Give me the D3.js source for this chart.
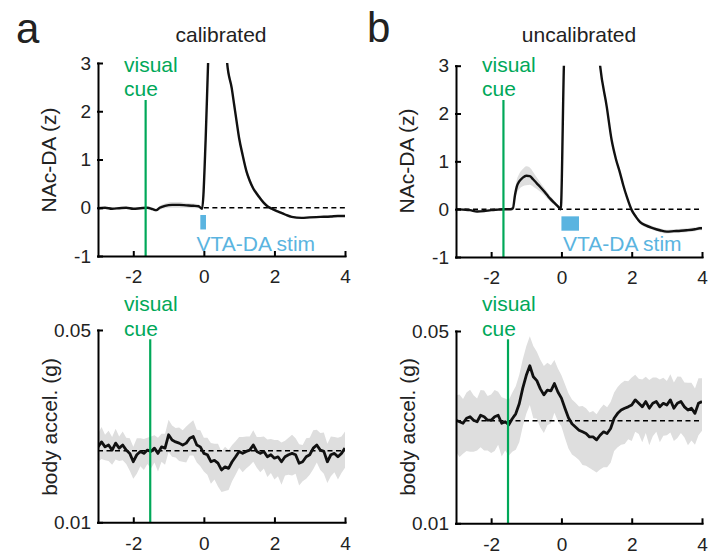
<!DOCTYPE html>
<html>
<head>
<meta charset="utf-8">
<script src="https://cdn.jsdelivr.net/npm/d3@7"></script>
<style>
  body { margin: 0; background: #fff; }
  svg { font-family: "Liberation Sans", Arial, Helvetica, sans-serif; }
  .axis path, .axis line { stroke: #000; stroke-width: 2; stroke-linecap: square; }
  .axis text { fill: #222; font-size: 19px; }
</style>
</head>
<body>
<svg id="fig" width="708" height="557"></svg>
<script>
// ---- data ----
const xTicks = [-2, 0, 2, 4];
const daTicks = [-1, 0, 1, 2, 3];
const accTicks = [0.01, 0.05];

// NAc-DA, calibrated (panel a)
const tDaA = [-3,-2.8,-2.6,-2.4,-2.2,-2,-1.8,-1.6,-1.45,-1.35,-1.25,-1.1,-0.9,-0.7,-0.5,-0.3,-0.15,-0.05,
  0.05,0.12,0.2,0.4,0.6,0.66,0.79,0.86,0.93,1.0,1.1,1.21,1.3,1.4,1.5,1.59,1.7,1.82,1.95,
  2.11,2.3,2.49,2.77,3.0,3.3,3.6,3.8,4.0];
const daA = [-0.01,0,-0.02,-0.01,0,-0.02,-0.01,0,-0.03,-0.05,0,0.04,0.06,0.06,0.05,0.04,0.03,-0.02,
  1.4,3.0,4.5,5.5,3.6,3.0,2.48,2.13,1.78,1.44,1.09,0.75,0.56,0.40,0.29,0.20,0.10,0.02,-0.03,
  -0.08,-0.14,-0.19,-0.21,-0.2,-0.19,-0.18,-0.17,-0.17];
const semDaA = [0.015,0.015,0.015,0.015,0.015,0.015,0.015,0.015,0.02,0.03,0.04,0.05,0.06,0.06,0.05,0.05,0.04,0.02,
  0.05,0.06,0.08,0.1,0.1,0.09,0.09,0.09,0.09,0.08,0.08,0.07,0.06,0.05,0.05,0.04,0.04,0.03,0.03,
  0.02,0.02,0.02,0.02,0.02,0.02,0.02,0.02,0.02];

// NAc-DA, uncalibrated (panel b)
const tDaB = [-3,-2.8,-2.6,-2.4,-2.2,-2,-1.8,-1.6,-1.45,-1.38,-1.32,-1.27,-1.2,-1.1,-1.0,-0.9,-0.8,-0.7,
  -0.61,-0.5,-0.4,-0.32,-0.2,-0.1,-0.02,0.07,0.15,0.5,1.0,1.1,1.29,1.43,1.55,1.67,1.76,1.86,
  2.0,2.12,2.24,2.4,2.62,2.8,3.0,3.2,3.4,3.56,3.8,3.94,4.0];
const daB = [0,-0.01,-0.02,-0.05,-0.04,-0.02,-0.01,0,0,0.02,0.3,0.47,0.58,0.66,0.70,0.69,0.62,0.54,
  0.47,0.38,0.29,0.22,0.13,0.06,0,3.0,5,7,3.8,3.0,2.14,1.44,1.05,0.75,0.50,0.26,
  -0.02,-0.16,-0.27,-0.34,-0.40,-0.44,-0.47,-0.46,-0.45,-0.44,-0.42,-0.40,-0.40];
const semDaB = [0.02,0.02,0.02,0.02,0.02,0.02,0.02,0.02,0.02,0.04,0.1,0.14,0.16,0.18,0.2,0.18,0.15,0.12,
  0.1,0.08,0.07,0.06,0.05,0.04,0.03,0.05,0.1,0.1,0.1,0.08,0.07,0.06,0.05,0.05,0.04,0.04,
  0.04,0.04,0.04,0.04,0.04,0.04,0.04,0.04,0.04,0.04,0.04,0.04,0.04];

// body acceleration, sampled every 0.1 s from -3 to 4
const tAcc = d3.range(71).map(i => -3 + i * 0.1);
const accA = [0.0188,0.0196,0.0188,0.0191,0.0183,0.0194,0.0186,0.0191,0.0183,0.0178,
  0.0166,0.0176,0.0181,0.0178,0.0183,0.0181,0.0186,0.0178,0.0188,0.0186,
  0.0208,0.0199,0.0196,0.0194,0.0191,0.0194,0.0202,0.0205,0.0191,0.0188,
  0.0178,0.0176,0.0166,0.0168,0.0164,0.0155,0.0159,0.0157,0.0166,0.0173,
  0.0181,0.0178,0.0181,0.0183,0.0191,0.0181,0.0178,0.0181,0.0173,0.0176,
  0.0171,0.0173,0.0166,0.0173,0.0176,0.0178,0.0176,0.0164,0.0166,0.0173,
  0.0176,0.0186,0.0191,0.0183,0.0181,0.0166,0.0176,0.0178,0.0173,0.0178,0.0186];
const semAccA = [0.0022,0.0026,0.0020,0.0024,0.0021,0.0025,0.0019,0.0023,0.0020,0.0024,
  0.0022,0.0026,0.0021,0.0023,0.0020,0.0024,0.0021,0.0025,0.0022,0.0024,
  0.0028,0.0026,0.0024,0.0027,0.0025,0.0029,0.0027,0.0030,0.0026,0.0028,
  0.0025,0.0027,0.0028,0.0025,0.0029,0.0026,0.0029,0.0026,0.0025,0.0024,
  0.0023,0.0026,0.0024,0.0022,0.0025,0.0023,0.0026,0.0024,0.0027,0.0025,
  0.0028,0.0026,0.0029,0.0025,0.0027,0.0030,0.0026,0.0028,0.0025,0.0029,
  0.0027,0.0030,0.0026,0.0028,0.0031,0.0027,0.0029,0.0026,0.0030,0.0027,0.0028];
const accB = [0.0237,0.0234,0.0231,0.0241,0.0244,0.0237,0.0234,0.0247,0.0244,0.0237,
  0.0237,0.0244,0.0247,0.0231,0.0234,0.0228,0.0240,0.0250,0.0272,0.0310,
  0.0345,0.0374,0.0341,0.0330,0.0308,0.0293,0.0305,0.0303,0.0322,0.0300,
  0.0285,0.0262,0.0242,0.0230,0.0224,0.0218,0.0215,0.0212,0.0206,0.0206,
  0.0201,0.0209,0.0215,0.0212,0.0221,0.0241,0.0251,0.0258,0.0262,0.0265,
  0.0269,0.0281,0.0273,0.0265,0.0277,0.0262,0.0273,0.0277,0.0265,0.0273,
  0.0269,0.0281,0.0262,0.0273,0.0277,0.0265,0.0258,0.0262,0.0251,0.0273,0.0277];
const semAccB = [0.0055,0.0060,0.0052,0.0058,0.0062,0.0055,0.0050,0.0058,0.0060,0.0053,
  0.0057,0.0061,0.0054,0.0056,0.0050,0.0052,0.0058,0.0065,0.0075,0.0085,
  0.0095,0.0105,0.0100,0.0090,0.0085,0.0080,0.0078,0.0072,0.0070,0.0065,
  0.0060,0.0058,0.0055,0.0052,0.0050,0.0048,0.0052,0.0050,0.0047,0.0050,
  0.0048,0.0052,0.0055,0.0052,0.0055,0.0058,0.0062,0.0065,0.0068,0.0063,
  0.0070,0.0066,0.0062,0.0068,0.0064,0.0070,0.0066,0.0062,0.0068,0.0065,
  0.0060,0.0067,0.0063,0.0069,0.0064,0.0060,0.0066,0.0062,0.0058,0.0064,0.0060];

// event markers
const cueDa = -1.65, cueAcc = -1.52;
const stimA = [-0.1, 0.06], stimB = [0, 0.5];
const stimLevels = [-0.15, -0.45];
const baseAccA = 0.0182, baseAccB = 0.0236;

const GREEN = '#00a859', BLUE = '#5ab4e0';

class TracePanel {

  constructor(_config, _data) {
    this.config = {
      parent: _config.parent,
      left: _config.left, top: _config.top,
      width: _config.width, height: _config.height,
      log: _config.log || false,
      yDomain: _config.yDomain,
      yTicks: _config.yTicks,
      yFormat: _config.yFormat,
      baseline: _config.baseline,
      dashFrom: _config.dashFrom,
      cue: _config.cue, cueTop: _config.cueTop,
      stim: _config.stim,
      lineWidth: _config.lineWidth || 2,
      curve: _config.curve || d3.curveLinear,
      id: _config.id
    };
    this.data = _data;
    this.initVis();
  }

  initVis() {
    let vis = this;
    const c = vis.config;

    vis.chart = d3.select(c.parent).append('g')
      .attr('transform', `translate(${c.left},${c.top})`);

    vis.xScale = d3.scaleLinear().domain([-3, 4]).range([0, c.width]);
    vis.yScale = (c.log ? d3.scaleLog() : d3.scaleLinear())
      .domain(c.yDomain).range([c.height, 0]);

    vis.chart.append('clipPath').attr('id', c.id)
      .append('rect').attr('width', c.width).attr('height', c.height);

    vis.plot = vis.chart.append('g').attr('clip-path', `url(#${c.id})`);

    vis.xAxis = d3.axisBottom(vis.xScale).tickValues(xTicks)
      .tickSizeInner(-4).tickSizeOuter(0).tickPadding(14).tickFormat(d => String(d));
    vis.yAxis = d3.axisLeft(vis.yScale).tickValues(c.yTicks)
      .tickSizeInner(-4).tickSizeOuter(0).tickPadding(7).tickFormat(c.yFormat);

    vis.renderVis();
  }

  renderVis() {
    let vis = this;
    const c = vis.config;
    const d = vis.data;
    const pts = d.t.map((t, i) => ({ t: t, m: d.mean[i], s: d.sem[i] }));

    // shaded s.e.m.
    vis.plot.append('path')
      .datum(pts)
      .attr('fill', '#dedede')
      .attr('d', d3.area().curve(c.curve)
        .x(p => vis.xScale(p.t))
        .y0(p => vis.yScale(p.m - p.s))
        .y1(p => vis.yScale(p.m + p.s)));

    // baseline
    vis.plot.append('line')
      .attr('x1', vis.xScale(c.dashFrom)).attr('x2', vis.xScale(4))
      .attr('y1', vis.yScale(c.baseline)).attr('y2', vis.yScale(c.baseline))
      .attr('stroke', '#000').attr('stroke-width', 1.5)
      .attr('stroke-dasharray', '5,3.5');

    // mean trace
    vis.plot.append('path')
      .datum(pts)
      .attr('fill', 'none')
      .attr('stroke', '#111')
      .attr('stroke-width', c.lineWidth)
      .attr('stroke-linejoin', 'round')
      .attr('d', d3.line().curve(c.curve).x(p => vis.xScale(p.t)).y(p => vis.yScale(p.m)));

    // stimulation block
    if (c.stim) {
      vis.chart.append('rect')
        .attr('x', vis.xScale(c.stim[0]))
        .attr('width', vis.xScale(c.stim[1]) - vis.xScale(c.stim[0]))
        .attr('y', vis.yScale(stimLevels[0]))
        .attr('height', vis.yScale(stimLevels[1]) - vis.yScale(stimLevels[0]))
        .attr('fill', BLUE);
    }

    // visual cue
    vis.chart.append('line')
      .attr('x1', vis.xScale(c.cue)).attr('x2', vis.xScale(c.cue))
      .attr('y1', c.cueTop).attr('y2', c.height)
      .attr('stroke', GREEN).attr('stroke-width', 2.2);

    vis.chart.append('g').attr('class', 'axis')
      .attr('transform', `translate(0,${c.height})`)
      .call(vis.xAxis);
    vis.chart.append('g').attr('class', 'axis')
      .call(vis.yAxis);
  }
}

const svg = d3.select('#fig');

new TracePanel({ parent: '#fig', id: 'cA', left: 98, top: 63, width: 247, height: 193,
  yDomain: [-1, 3], yTicks: daTicks, yFormat: d => String(d), baseline: 0, dashFrom: 0,
  cue: cueDa, cueTop: 37, stim: stimA, lineWidth: 2.4, curve: d3.curveMonotoneX },
  { t: tDaA, mean: daA, sem: semDaA });
new TracePanel({ parent: '#fig', id: 'cB', left: 456, top: 65.7, width: 246, height: 191.3,
  yDomain: [-1, 3], yTicks: daTicks, yFormat: d => String(d), baseline: 0, dashFrom: -3,
  cue: cueDa, cueTop: 34.3, stim: stimB, lineWidth: 2.4, curve: d3.curveMonotoneX },
  { t: tDaB, mean: daB, sem: semDaB });
new TracePanel({ parent: '#fig', id: 'cC', left: 98, top: 330, width: 247, height: 192.3,
  log: true, yDomain: [0.01, 0.05], yTicks: accTicks, yFormat: d3.format('.2f'),
  baseline: baseAccA, dashFrom: -3, cue: cueAcc, cueTop: 9.3, lineWidth: 2.8 },
  { t: tAcc, mean: accA, sem: semAccA });
new TracePanel({ parent: '#fig', id: 'cD', left: 456, top: 331, width: 246, height: 192.3,
  log: true, yDomain: [0.01, 0.05], yTicks: accTicks, yFormat: d3.format('.2f'),
  baseline: baseAccB, dashFrom: -3, cue: cueAcc, cueTop: 8.3, lineWidth: 2.8 },
  { t: tAcc, mean: accB, sem: semAccB });

// text
const txt = (x, y, s, size, color, anchor) => svg.append('text')
  .attr('x', x).attr('y', y).attr('font-size', size)
  .attr('fill', color || '#222').attr('text-anchor', anchor || 'start').text(s);

txt(16, 42.5, 'a', 42);
txt(367, 42, 'b', 42);
txt(221, 41.5, 'calibrated', 21, '#222', 'middle');
txt(579, 41.5, 'uncalibrated', 21, '#222', 'middle');

[[124, 71.5], [482, 71.5], [124, 311], [482, 311]].forEach(p => {
  txt(p[0], p[1], 'visual', 21, GREEN);
  txt(p[0], p[1] + 24.5, 'cue', 21, GREEN);
});
txt(196.5, 251, 'VTA-DA stim', 21, BLUE);
txt(563, 251, 'VTA-DA stim', 21, BLUE);

const ylab = (x, y, s) => svg.append('text')
  .attr('transform', `translate(${x},${y}) rotate(-90)`)
  .attr('font-size', 21).attr('fill', '#222').attr('text-anchor', 'middle').text(s);
ylab(56, 160, 'NAc-DA (z)');
ylab(414, 161, 'NAc-DA (z)');
ylab(57, 427, 'body accel. (g)');
ylab(415, 427, 'body accel. (g)');
</script>
</body>
</html>
